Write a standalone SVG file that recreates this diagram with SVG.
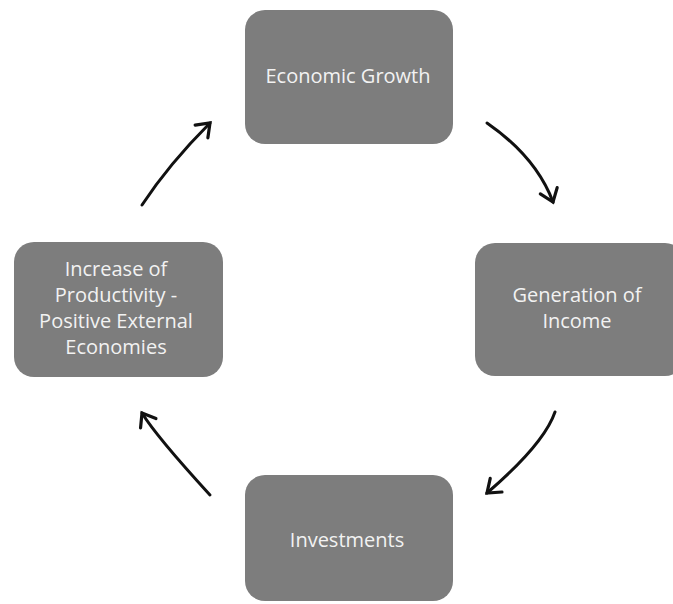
<svg xmlns="http://www.w3.org/2000/svg" width="673" height="604" viewBox="0 0 673 604">
  <defs>
    <style>
      .box { fill: #7d7d7d; }
      .label { font-family: "Open Sans", "DejaVu Sans", sans-serif; font-size: 20px; fill: #f2f2f2; text-anchor: middle; }
      .arrow { fill: none; stroke: #111; stroke-width: 3; stroke-linecap: round; marker-end: url(#head); }
    </style>
    <marker id="head" markerUnits="userSpaceOnUse" markerWidth="30" markerHeight="30" viewBox="-16 -15 20 30" refX="0" refY="0" orient="auto">
      <path d="M -12 -9 L 0 0 L -12 9" fill="none" stroke="#111" stroke-width="3.2" stroke-linecap="round" stroke-linejoin="miter"/>
    </marker>
  </defs>
  <rect width="673" height="604" fill="#ffffff"/>

  <g id="economic-growth">
    <rect class="box" x="245" y="10" width="208" height="134" rx="20"/>
    <text class="label" x="348" y="83">Economic Growth</text>
  </g>

  <g id="generation-of-income">
    <rect class="box" x="475" y="243" width="210" height="133" rx="20"/>
    <text class="label" x="577" y="302">Generation of</text>
    <text class="label" x="577" y="328">Income</text>
  </g>

  <g id="investments">
    <rect class="box" x="245" y="475" width="208" height="126" rx="20"/>
    <text class="label" x="347" y="547">Investments</text>
  </g>

  <g id="increase-of-productivity">
    <rect class="box" x="14" y="242" width="209" height="135" rx="20"/>
    <text class="label" x="116" y="276">Increase of</text>
    <text class="label" x="116" y="302">Productivity -</text>
    <text class="label" x="116" y="328">Positive External</text>
    <text class="label" x="116" y="354">Economies</text>
  </g>

  <g id="connectors">
    <path class="arrow" d="M 487 123 Q 536 157 553 202"/>
    <path class="arrow" d="M 555 412 Q 544 444 487 493"/>
    <path class="arrow" d="M 210 495 Q 156 436 142 413"/>
    <path class="arrow" d="M 142 205 Q 169 164 210 123"/>
  </g>
</svg>
